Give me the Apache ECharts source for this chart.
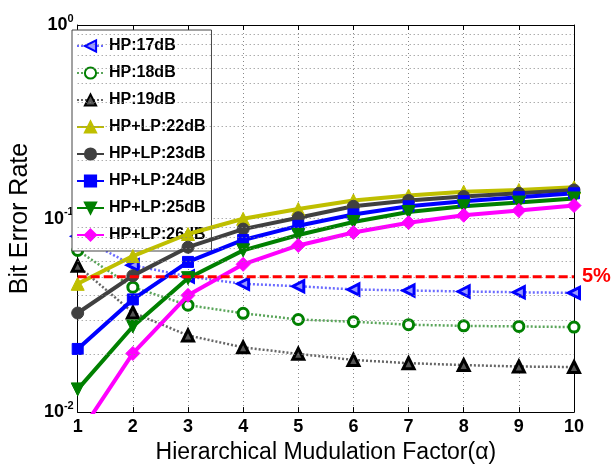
<!DOCTYPE html>
<html>
<head>
<meta charset="utf-8">
<script src="https://cdn.jsdelivr.net/npm/echarts@6/dist/echarts.min.js"></script>
<style>
  html, body { margin: 0; padding: 0; background: #fff; }
  #chart { width: 614px; height: 469px; }
</style>
</head>
<body>
<div id="chart"></div>
<script>
// 横轴：分层调制因子
const alpha = [1, 2, 3, 4, 5, 6, 7, 8, 9, 10];
// HP 曲线（虚点线）
const hp17 = [0.081, 0.0574, 0.0502, 0.046, 0.0447, 0.043, 0.0425, 0.042, 0.0416, 0.0413];
const hp18 = [0.0684, 0.0442, 0.0357, 0.0324, 0.0301, 0.0293, 0.0283, 0.0279, 0.0277, 0.0275];
const hp19 = [0.057, 0.0327, 0.0249, 0.0216, 0.02, 0.0186, 0.0179, 0.0175, 0.0172, 0.0171];
// HP+LP 曲线（实线）
const hplp22 = [0.046, 0.064, 0.0832, 0.0997, 0.112, 0.124, 0.1315, 0.1377, 0.1405, 0.145];
const hplp23 = [0.0325, 0.0507, 0.0711, 0.0882, 0.101, 0.1157, 0.124, 0.13, 0.135, 0.1405];
const hplp24 = [0.0212, 0.0382, 0.0597, 0.0775, 0.0917, 0.105, 0.1157, 0.123, 0.129, 0.135];
const hplp25 = [0.0131, 0.0277, 0.0492, 0.0685, 0.0822, 0.096, 0.108, 0.1157, 0.121, 0.127];
const hplp26 = [0.0075, 0.0201, 0.0401, 0.058, 0.0726, 0.0847, 0.0952, 0.104, 0.11, 0.1167];
// 5% 门限
const threshold = 0.05;
// 对数轴的次网格 2..9 x 10^k
const minorGrid = [];
[0.01, 0.1].forEach((d) => {
  for (let m = 2; m <= 9; m++) minorGrid.push(+(m * d).toFixed(4));
});

const FONT = "'Liberation Sans', Arial, sans-serif";
const pair = vals => alpha.map((a, i) => [a, vals[i]]);

// 点线 + 空心粗边标记
const dotted = (name, vals, lineColor, markColor, fill, symbol, rotate, size) => ({
  name,
  type: 'line',
  data: pair(vals),
  symbol,
  symbolSize: size,
  symbolRotate: rotate,
  lineStyle: { color: lineColor, width: 2.5, type: [2, 2] },
  itemStyle: { color: fill, borderColor: markColor, borderWidth: 3 },
  z: 3,
});

const solid = (name, vals, color, symbol, rotate, size) => ({
  name,
  type: 'line',
  data: pair(vals),
  symbol,
  symbolSize: size,
  symbolRotate: rotate,
  lineStyle: { color, width: 4 },
  itemStyle: { color, borderColor: color, borderWidth: 1 },
  z: 4,
});

const chart = echarts.init(document.getElementById('chart'));

const logLabel = (v) => {
  const e = Math.round(Math.log10(v));
  return `{b|10}{s|${e}}`;
};

const option = {
  animation: false,
  textStyle: { fontFamily: FONT },
  grid: { left: 67, right: 40, top: 25, bottom: 49 },
  legend: {
    orient: 'vertical',
    left: 72,
    top: 30,
    itemWidth: 27,
    itemHeight: 14,
    itemGap: 11,
    padding: [8, 6, 8, 4],
    backgroundColor: '#fff',
    borderColor: '#444',
    borderWidth: 1,
    textStyle: { fontFamily: FONT, fontSize: 16, fontWeight: 'bold', color: '#000' },
    data: ['HP:17dB', 'HP:18dB', 'HP:19dB', 'HP+LP:22dB', 'HP+LP:23dB', 'HP+LP:24dB', 'HP+LP:25dB', 'HP+LP:26dB'],
  },
  xAxis: [{
    type: 'value',
    min: 1,
    max: 10,
    interval: 1,
    name: 'Hierarchical Mudulation Factor(α)',
    nameLocation: 'middle',
    nameGap: 26,
    nameTextStyle: { fontFamily: FONT, fontSize: 23, color: '#000' },
    axisLine: { lineStyle: { color: '#000', width: 1 } },
    axisTick: { inside: true, length: 5, lineStyle: { color: '#000' } },
    axisLabel: { fontFamily: FONT, fontSize: 18, fontWeight: 'bold', color: '#000', margin: 6 },
    splitLine: { show: true, lineStyle: { color: '#888', type: [1, 3], width: 1 } },
  }, {
    type: 'value',
    position: 'top',
    min: 1,
    max: 10,
    interval: 1,
    axisLine: { lineStyle: { color: '#000', width: 1 } },
    axisTick: { inside: true, length: 5, lineStyle: { color: '#000' } },
    axisLabel: { show: false },
    splitLine: { show: false },
  }],
  yAxis: [{
    type: 'log',
    logBase: 10,
    min: 0.01,
    max: 1,
    name: 'Bit Error Rate',
    nameLocation: 'middle',
    nameGap: 33,
    nameTextStyle: { fontFamily: FONT, fontSize: 25, color: '#000' },
    axisLine: { show: true, lineStyle: { color: '#000', width: 1 } },
    axisTick: { inside: true, length: 5, lineStyle: { color: '#000' } },
    axisLabel: {
      margin: 4,
      formatter: logLabel,
      rich: {
        b: { fontFamily: FONT, fontSize: 18, fontWeight: 'bold', color: '#000' },
        s: { fontFamily: FONT, fontSize: 11, fontWeight: 'bold', color: '#000', padding: [0, 0, 13, 0] },
      },
    },
    splitLine: { show: true, lineStyle: { color: '#888', type: [1, 3], width: 1 } },
  }, {
    type: 'log',
    logBase: 10,
    min: 0.01,
    max: 1,
    position: 'right',
    axisLine: { show: true, lineStyle: { color: '#000', width: 1 } },
    axisTick: { inside: true, length: 5, lineStyle: { color: '#000' } },
    axisLabel: { show: false },
    splitLine: { show: false },
  }],
  series: [
    {
      name: 'minorGrid',
      type: 'line',
      data: [],
      silent: true,
      z: 1,
      markLine: {
        silent: true,
        symbol: 'none',
        label: { show: false },
        lineStyle: { color: '#888', type: [1, 3], width: 1 },
        data: minorGrid.map(v => ({ yAxis: v })),
      },
    },
    {
      name: '5%',
      type: 'line',
      data: [[alpha[0], threshold], [alpha[alpha.length - 1], threshold]],
      symbol: 'none',
      lineStyle: { color: '#ff0000', width: 3, type: [9, 4] },
      z: 5,
      endLabel: {
        show: true,
        formatter: '5%',
        distance: 8,
        fontFamily: FONT,
        fontSize: 20,
        fontWeight: 'bold',
        color: '#ff0000',
      },
    },
    dotted('HP:17dB', hp17, '#6b6bff', '#0000ff', '#9a9aff', 'triangle', 90, 11),
    dotted('HP:18dB', hp18, '#5aa55a', '#008000', '#ffffff', 'circle', 0, 10),
    dotted('HP:19dB', hp19, '#666666', '#000000', '#555555', 'triangle', 0, 11),
    solid('HP+LP:22dB', hplp22, '#bfbf00', 'triangle', 0, 13),
    solid('HP+LP:23dB', hplp23, '#404040', 'circle', 0, 12),
    solid('HP+LP:24dB', hplp24, '#0000ff', 'rect', 0, 11),
    solid('HP+LP:25dB', hplp25, '#008000', 'triangle', 180, 13),
    solid('HP+LP:26dB', hplp26, '#ff00ff', 'diamond', 0, 14),
  ],
};

chart.setOption(option);
</script>
</body>
</html>
